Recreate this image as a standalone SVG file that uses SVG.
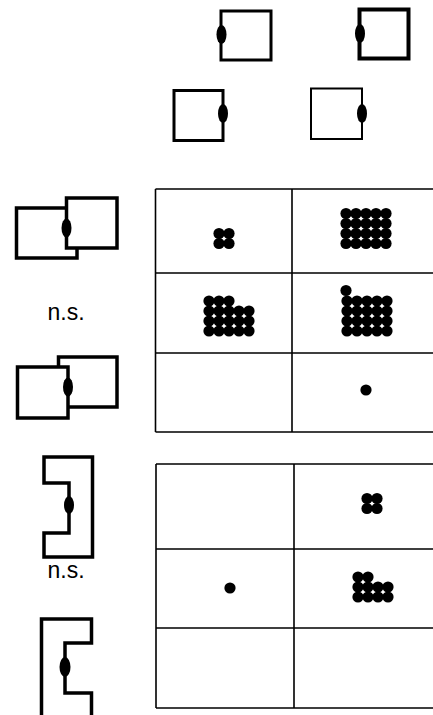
<svg xmlns="http://www.w3.org/2000/svg" width="433" height="715" viewBox="0 0 433 715">
<defs>
<style>
.ic{fill:none;stroke:#000;stroke-linejoin:miter}
.fl{fill:#fff;stroke:#000}
.bl{fill:#000}
.grid{fill:none;stroke:#000;stroke-width:1.6}
.d{fill:#000}
.t{font-family:"Liberation Sans",Arial,sans-serif;font-size:23px;fill:#000}
</style>
<circle id="dot" r="5.6" class="d"/>
</defs>
<rect width="433" height="715" fill="#fff"/>

<g id="icon-top-1">
<rect x="221" y="11" width="50" height="49" class="ic" stroke-width="3"/>
<ellipse cx="221.5" cy="34.5" rx="5" ry="9.5" class="bl"/>
</g>
<g id="icon-top-2">
<rect x="359.5" y="9.5" width="49" height="49" class="ic" stroke-width="4"/>
<ellipse cx="360" cy="33.5" rx="5" ry="9.5" class="bl"/>
</g>
<g id="icon-top-3">
<rect x="174" y="90.5" width="49" height="50" class="ic" stroke-width="3"/>
<ellipse cx="223" cy="113.5" rx="5" ry="9.5" class="bl"/>
</g>
<g id="icon-top-4">
<rect x="311" y="88.5" width="51" height="50.5" class="ic" stroke-width="2"/>
<ellipse cx="362" cy="113.5" rx="5" ry="9.5" class="bl"/>
</g>

<g id="icon-left-1">
<rect x="16.5" y="208" width="60.5" height="50" class="fl" stroke-width="3.5"/>
<rect x="66.5" y="198" width="50.5" height="50" class="fl" stroke-width="3.5"/>
<ellipse cx="66.5" cy="228" rx="5" ry="9.5" class="bl"/>
</g>
<text id="ns-1" class="t" x="66" y="320" text-anchor="middle">n.s.</text>
<g id="icon-left-2">
<rect x="58.5" y="357" width="58.5" height="50" class="fl" stroke-width="3.5"/>
<rect x="17.5" y="367" width="50.5" height="51" class="fl" stroke-width="3.5"/>
<ellipse cx="68" cy="387" rx="5" ry="9.5" class="bl"/>
</g>

<g id="table-1">
<path class="grid" d="M155.5,189 H433 M155.5,273 H433 M155.5,353 H433 M155.5,432 H433 M155.5,189 V432 M292,189 V432"/>
<g id="t1-c00">
<use href="#dot" x="219" y="233.5"/><use href="#dot" x="229" y="233.5"/>
<use href="#dot" x="219" y="243.5"/><use href="#dot" x="229" y="243.5"/>
</g>
<g id="t1-c01">
<use href="#dot" x="346" y="213.5"/><use href="#dot" x="356" y="213.5"/><use href="#dot" x="366" y="213.5"/><use href="#dot" x="376" y="213.5"/><use href="#dot" x="386" y="213.5"/>
<use href="#dot" x="346" y="223.5"/><use href="#dot" x="356" y="223.5"/><use href="#dot" x="366" y="223.5"/><use href="#dot" x="376" y="223.5"/><use href="#dot" x="386" y="223.5"/>
<use href="#dot" x="346" y="233.5"/><use href="#dot" x="356" y="233.5"/><use href="#dot" x="366" y="233.5"/><use href="#dot" x="376" y="233.5"/><use href="#dot" x="386" y="233.5"/>
<use href="#dot" x="346" y="243.5"/><use href="#dot" x="356" y="243.5"/><use href="#dot" x="366" y="243.5"/><use href="#dot" x="376" y="243.5"/><use href="#dot" x="386" y="243.5"/>
</g>
<g id="t1-c10">
<use href="#dot" x="209" y="301"/><use href="#dot" x="219" y="301"/><use href="#dot" x="229" y="301"/>
<use href="#dot" x="209" y="311"/><use href="#dot" x="219" y="311"/><use href="#dot" x="229" y="311"/><use href="#dot" x="239" y="311"/><use href="#dot" x="249" y="311"/>
<use href="#dot" x="209" y="321"/><use href="#dot" x="219" y="321"/><use href="#dot" x="229" y="321"/><use href="#dot" x="239" y="321"/><use href="#dot" x="249" y="321"/>
<use href="#dot" x="209" y="331"/><use href="#dot" x="219" y="331"/><use href="#dot" x="229" y="331"/><use href="#dot" x="239" y="331"/><use href="#dot" x="249" y="331"/>
</g>
<g id="t1-c11">
<use href="#dot" x="346" y="290.5"/>
<use href="#dot" x="347" y="301"/><use href="#dot" x="357" y="301"/><use href="#dot" x="367" y="301"/><use href="#dot" x="377" y="301"/><use href="#dot" x="387" y="301"/>
<use href="#dot" x="347" y="311"/><use href="#dot" x="357" y="311"/><use href="#dot" x="367" y="311"/><use href="#dot" x="377" y="311"/><use href="#dot" x="387" y="311"/>
<use href="#dot" x="347" y="321"/><use href="#dot" x="357" y="321"/><use href="#dot" x="367" y="321"/><use href="#dot" x="377" y="321"/><use href="#dot" x="387" y="321"/>
<use href="#dot" x="347" y="331"/><use href="#dot" x="357" y="331"/><use href="#dot" x="367" y="331"/><use href="#dot" x="377" y="331"/><use href="#dot" x="387" y="331"/>
</g>
<g id="t1-c21">
<use href="#dot" x="366" y="390"/>
</g>
</g>

<g id="icon-left-3">
<path class="ic" stroke-width="3.5" d="M44,457 H92.5 V557 H44 V533 H69 V483 H44 Z"/>
<ellipse cx="69" cy="505" rx="5" ry="9" class="bl"/>
</g>
<text id="ns-2" class="t" x="66" y="578" text-anchor="middle">n.s.</text>
<g id="icon-left-4">
<path class="ic" stroke-width="3.5" d="M41.5,716 V619 H91.5 V643 H65 V693 H91.5 V716"/>
<ellipse cx="65" cy="667" rx="5.5" ry="10" class="bl"/>
</g>

<g id="table-2">
<path class="grid" d="M156,464 H433 M156,549 H433 M156,628 H433 M156,708 H433 M156,464 V708 M294,464 V708"/>
<g id="t2-c01">
<use href="#dot" x="367" y="498.5"/><use href="#dot" x="377" y="498.5"/>
<use href="#dot" x="367" y="508.5"/><use href="#dot" x="377" y="508.5"/>
</g>
<g id="t2-c10">
<use href="#dot" x="230" y="588"/>
</g>
<g id="t2-c11">
<use href="#dot" x="358" y="577"/><use href="#dot" x="368" y="577"/>
<use href="#dot" x="358" y="587"/><use href="#dot" x="368" y="587"/><use href="#dot" x="378" y="587"/><use href="#dot" x="388" y="587"/>
<use href="#dot" x="358" y="597"/><use href="#dot" x="368" y="597"/><use href="#dot" x="378" y="597"/><use href="#dot" x="388" y="597"/>
</g>
</g>
</svg>
